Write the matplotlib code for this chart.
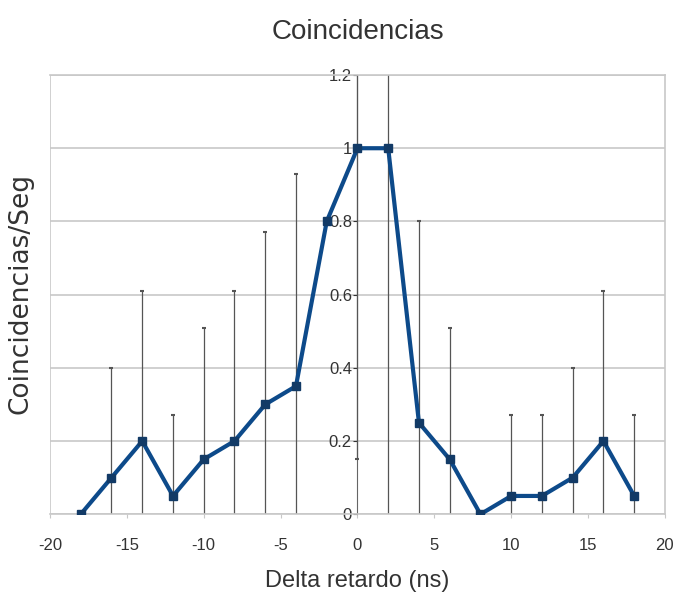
import numpy as np
import matplotlib.pyplot as plt

plt.rcParams['axes.unicode_minus'] = False

# Coincidencias vs delta retardo
delta = np.array([-18, -16, -14, -12, -10, -8, -6, -4, -2, 0,
                  2, 4, 6, 8, 10, 12, 14, 16, 18])
coinc = np.array([0.0, 0.1, 0.2, 0.05, 0.15, 0.2, 0.3, 0.35, 0.8, 1.0,
                  1.0, 0.25, 0.15, 0.0, 0.05, 0.05, 0.1, 0.2, 0.05])
err = np.array([0.0, 0.3, 0.41, 0.22, 0.36, 0.41, 0.47, 0.58, 0.0, 0.85,
                1.1, 0.55, 0.36, 0.0, 0.22, 0.22, 0.3, 0.41, 0.22])

xticks = np.arange(-20, 21, 5)
yticks = np.arange(0, 1.21, 0.2)

fig = plt.figure(figsize=(6.73, 6.05), dpi=100)
ax = fig.add_axes([0.0743, 0.150, 0.9137, 0.726])

ax.errorbar(delta, coinc, yerr=err, fmt='none', ecolor='#555555',
            elinewidth=0.9, capsize=1.2, capthick=1.5, zorder=2)
ax.plot(delta, coinc, color='#0d4a8a', lw=3, marker='s', ms=6,
        mfc='#123a66', mec='#123a66', zorder=3)

ax.set_xlim(-20, 20)
ax.set_ylim(0, 1.2)
ax.set_xticks(xticks)
ax.set_yticks(yticks)
ax.set_yticklabels(['0', '0.2', '0.4', '0.6', '0.8', '1', '1.2'])
ax.grid(axis='y', color='#c8c8c8', lw=1.2)
ax.set_axisbelow(True)

ax.spines['left'].set_position(('data', 0))
ax.spines['left'].set_color('#666666')
ax.spines['left'].set_zorder(1)
for s in ['top', 'right', 'bottom']:
    ax.spines[s].set_color('#c8c8c8')
    ax.spines[s].set_linewidth(1.2)
ax.axvline(-20, color='#c8c8c8', lw=1.2, zorder=0)

ax.tick_params(axis='y', length=3, direction='out', pad=1,
               labelsize=12, colors='#333333')
ax.tick_params(axis='x', length=3, color='#c8c8c8', pad=14,
               labelsize=12, labelcolor='#333333')
for lab in ax.get_xticklabels() + ax.get_yticklabels():
    lab.set_fontfamily('Liberation Sans')

ax.set_title('Coincidencias', fontsize=20, family='Liberation Sans',
             color='#333333', pad=26)
ax.set_xlabel('Delta retardo (ns)', fontsize=17, family='Liberation Sans',
              color='#333333', labelpad=12)
fig.text(0.03, 0.515, 'Coincidencias/Seg', rotation=90, fontsize=19,
         family='DejaVu Sans', color='#333333', ha='center', va='center')

fig.savefig('out.png', dpi=100)
